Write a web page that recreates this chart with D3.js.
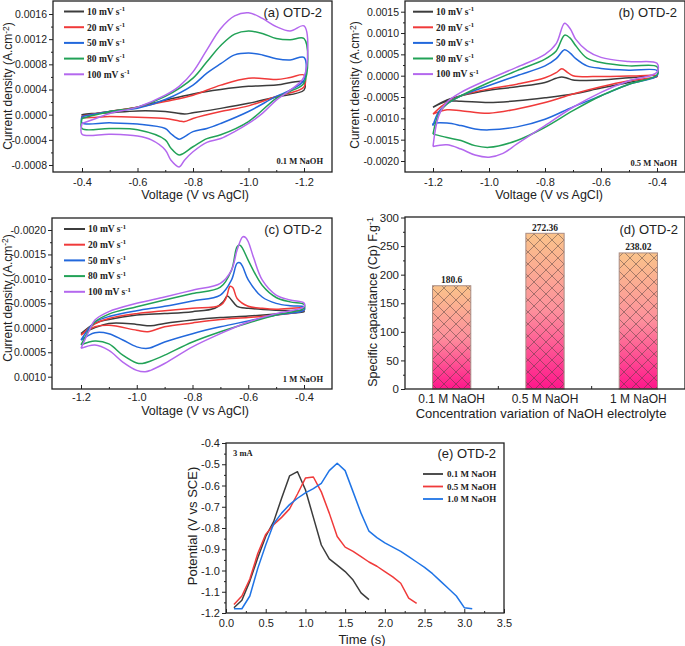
<!DOCTYPE html>
<html><head><meta charset="utf-8">
<script src="https://cdn.jsdelivr.net/npm/d3@7"></script>
<style>
body{margin:0;background:#fff}
svg{display:block}
text{font-family:"Liberation Sans",Arial,sans-serif;fill:#222}
.ser{font-family:"Liberation Serif","Times New Roman",serif;font-weight:bold}
</style>
</head><body>
<svg id="c" width="685" height="646"></svg>
<script>
// ---------- DATA (current values in units of 1e-4 A.cm^-2) ----------
const U = 1e-4;
const scanLabels = ["10","20","50","80","100"];
// Panel (a) 0.1 M NaOH  [V, I] loops
const cvA10  = [[-0.4,-0.1],[-0.5,0.5],[-0.6,1.2],[-0.7,2.3],[-0.8,3.3],[-0.9,4.0],[-1.0,4.5],[-1.1,4.7],[-1.2,5.2],
                [-1.2,3.9],[-1.1,2.8],[-1.0,1.8],[-0.9,1.0],[-0.8,0.3],[-0.77,0.1],[-0.7,0.5],[-0.6,0.6],[-0.5,0.3],[-0.4,0.0]];
const cvA20  = [[-0.4,-0.2],[-0.5,0.5],[-0.6,1.2],[-0.7,2.1],[-0.8,3.1],[-0.9,4.7],[-1.0,5.8],[-1.1,5.6],[-1.15,5.9],[-1.2,6.3],
                [-1.2,4.4],[-1.1,2.9],[-1.0,1.4],[-0.9,0.5],[-0.8,-0.6],[-0.77,-1.1],[-0.75,-1.0],[-0.7,-0.6],[-0.6,-0.4],[-0.5,-0.3],[-0.4,-0.4]];
const cvA50  = [[-0.4,-0.3],[-0.5,0.5],[-0.6,1.0],[-0.7,2.4],[-0.8,4.7],[-0.85,6.6],[-0.9,8.1],[-0.95,9.5],[-1.0,9.8],[-1.05,9.5],[-1.1,8.9],[-1.15,8.7],[-1.2,9.1],
                [-1.2,5.5],[-1.15,3.9],[-1.1,2.9],[-1.0,0.5],[-0.9,-1.4],[-0.85,-2.2],[-0.8,-2.7],[-0.77,-3.5],[-0.75,-3.9],[-0.72,-3.0],[-0.7,-2.2],[-0.6,-1.5],[-0.5,-1.3],[-0.4,-1.3]];
const cvA80  = [[-0.4,-0.6],[-0.5,0.5],[-0.6,1.2],[-0.7,2.9],[-0.8,5.8],[-0.85,8.4],[-0.9,11.0],[-0.95,12.8],[-1.0,13.3],[-1.05,12.9],[-1.1,12.1],[-1.15,11.9],[-1.2,12.1],
                [-1.2,5.0],[-1.15,3.7],[-1.1,2.6],[-1.0,-1.1],[-0.9,-3.2],[-0.85,-3.8],[-0.8,-5.1],[-0.75,-6.4],[-0.72,-5.3],[-0.7,-4.0],[-0.6,-2.4],[-0.5,-2.2],[-0.4,-2.2]];
const cvA100 = [[-0.4,-1.4],[-0.45,-0.6],[-0.5,0.2],[-0.6,1.2],[-0.7,3.1],[-0.75,4.5],[-0.8,6.8],[-0.85,10.3],[-0.9,13.7],[-0.95,15.7],[-1.0,16.2],[-1.05,15.3],[-1.1,14.0],[-1.15,13.3],[-1.2,14.1],
                [-1.2,6.0],[-1.15,3.9],[-1.1,2.3],[-1.05,0.2],[-1.0,-1.4],[-0.95,-2.7],[-0.9,-3.8],[-0.85,-4.4],[-0.8,-5.9],[-0.77,-7.2],[-0.75,-8.3],[-0.72,-7.2],[-0.7,-5.6],[-0.65,-4.0],[-0.6,-3.4],[-0.5,-3.1],[-0.4,-3.1]];
// Panel (b) 0.5 M NaOH
const cvB10  = [[-1.2,-7.4],[-1.15,-5.7],[-1.1,-4.7],[-1.0,-3.4],[-0.9,-2.6],[-0.8,-1.6],[-0.76,-0.6],[-0.74,-0.3],[-0.72,-0.6],[-0.7,-1.0],[-0.6,-1.0],[-0.5,-0.5],[-0.4,0],
                [-0.4,-0.2],[-0.5,-1.6],[-0.6,-2.9],[-0.7,-4.3],[-0.8,-5.2],[-0.9,-5.9],[-1.0,-6.3],[-1.1,-6.0],[-1.15,-6.0],[-1.2,-7.4]];
const cvB20  = [[-1.2,-9.0],[-1.17,-7.2],[-1.15,-6.3],[-1.1,-4.7],[-1.0,-3.1],[-0.9,-2.0],[-0.8,-0.5],[-0.76,0.7],[-0.74,1.6],[-0.72,0.8],[-0.7,0],[-0.6,-0.2],[-0.5,-0.1],[-0.4,0],
                [-0.4,-0.2],[-0.5,-1.2],[-0.6,-2.6],[-0.7,-4.3],[-0.8,-6.3],[-0.9,-7.8],[-1.0,-8.8],[-1.1,-8.2],[-1.15,-8.0],[-1.2,-9.0]];
const cvB50  = [[-1.2,-11.7],[-1.18,-8.5],[-1.15,-6.6],[-1.1,-4.7],[-1.0,-2.3],[-0.9,0],[-0.8,2.3],[-0.76,4.0],[-0.73,6.1],[-0.71,5.3],[-0.69,4.0],[-0.65,2.3],[-0.6,1.7],[-0.5,1.3],[-0.4,1.2],
                [-0.4,0],[-0.5,-2.0],[-0.6,-4.7],[-0.7,-7.3],[-0.8,-10.2],[-0.9,-12.0],[-1.0,-12.7],[-1.05,-12.5],[-1.1,-11.7],[-1.15,-11.1],[-1.2,-11.3]];
const cvB80  = [[-1.2,-13.7],[-1.18,-9.0],[-1.15,-6.6],[-1.1,-4.7],[-1.0,-1.6],[-0.9,1.2],[-0.8,3.9],[-0.76,5.8],[-0.73,9.5],[-0.71,8.8],[-0.69,7.0],[-0.65,4.1],[-0.6,3.1],[-0.5,2.3],[-0.4,2.1],
                [-0.4,0.2],[-0.5,-2.0],[-0.6,-4.7],[-0.7,-8.2],[-0.8,-12.1],[-0.9,-15.2],[-1.0,-16.8],[-1.05,-16.4],[-1.1,-15.2],[-1.15,-14.5],[-1.2,-13.7]];
const cvB100 = [[-1.2,-16.6],[-1.18,-9.5],[-1.15,-6.2],[-1.1,-3.9],[-1.0,-0.8],[-0.9,2.0],[-0.8,5.0],[-0.76,7.5],[-0.73,12.3],[-0.71,11.0],[-0.69,8.5],[-0.65,5.9],[-0.6,4.3],[-0.5,3.3],[-0.4,2.9],
                [-0.4,0.8],[-0.5,-1.2],[-0.6,-3.9],[-0.7,-7.4],[-0.8,-11.7],[-0.9,-16.0],[-0.95,-18.2],[-1.0,-19.1],[-1.05,-18.6],[-1.1,-17.2],[-1.15,-16.2],[-1.2,-16.6]];
// Panel (c) 1 M NaOH (axis drawn reversed, as in the original)
const cvC10  = [[-1.2,1.2],[-1.15,-0.9],[-1.1,-1.7],[-1.0,-2.6],[-0.9,-2.9],[-0.8,-3.3],[-0.72,-4.0],[-0.69,-5.3],[-0.675,-6.5],[-0.66,-5.7],[-0.64,-4.4],[-0.6,-4.0],[-0.5,-3.6],[-0.4,-3.4],
                [-0.4,-3.3],[-0.5,-2.8],[-0.6,-2.4],[-0.7,-2.1],[-0.8,-1.6],[-0.9,-0.9],[-0.95,-0.4],[-1.0,-0.7],[-1.1,-0.9],[-1.2,1.2]];
const cvC20  = [[-1.2,1.5],[-1.15,-0.8],[-1.1,-1.9],[-1.0,-2.9],[-0.9,-3.5],[-0.8,-4.0],[-0.7,-4.6],[-0.68,-6.0],[-0.665,-8.5],[-0.655,-8.2],[-0.64,-6.0],[-0.6,-4.4],[-0.55,-4.0],[-0.5,-3.8],[-0.4,-4.0],
                [-0.4,-3.6],[-0.5,-2.6],[-0.6,-2.1],[-0.7,-1.7],[-0.8,-1.0],[-0.9,-0.2],[-0.96,0.8],[-1.0,0.5],[-1.1,-0.5],[-1.15,-0.2],[-1.2,1.5]];
const cvC50  = [[-1.2,2.5],[-1.17,0],[-1.15,-1.2],[-1.1,-2.3],[-1.0,-3.5],[-0.9,-4.4],[-0.8,-5.5],[-0.7,-6.7],[-0.66,-9.8],[-0.64,-13.2],[-0.63,-13.3],[-0.62,-12.5],[-0.6,-9.8],[-0.55,-6.3],[-0.5,-5.0],[-0.45,-4.5],[-0.4,-4.3],
                [-0.4,-3.6],[-0.5,-2.6],[-0.6,-1.4],[-0.7,-0.2],[-0.8,1.2],[-0.9,2.9],[-0.96,4.2],[-1.0,3.9],[-1.05,2.5],[-1.1,1.2],[-1.15,1.0],[-1.2,2.5]];
const cvC80  = [[-1.2,3.5],[-1.17,0.4],[-1.15,-1.2],[-1.1,-2.8],[-1.0,-4.3],[-0.9,-5.7],[-0.8,-7.0],[-0.7,-8.3],[-0.66,-11.8],[-0.64,-16.6],[-0.63,-16.9],[-0.62,-16.2],[-0.6,-13.8],[-0.55,-8.7],[-0.5,-6.2],[-0.45,-5.3],[-0.4,-4.8],
                [-0.4,-4.0],[-0.5,-2.6],[-0.6,-1.0],[-0.7,0.8],[-0.8,2.9],[-0.9,5.6],[-0.95,6.8],[-0.98,7.3],[-1.0,7.2],[-1.05,5.6],[-1.1,3.3],[-1.15,2.7],[-1.2,3.5]];
const cvC100 = [[-1.2,4.2],[-1.17,0.5],[-1.15,-1.6],[-1.1,-3.3],[-1.0,-5.0],[-0.9,-6.3],[-0.8,-7.7],[-0.7,-9.1],[-0.66,-11.8],[-0.64,-15.9],[-0.62,-18.6],[-0.61,-18.5],[-0.6,-17.6],[-0.58,-14.2],[-0.55,-9.8],[-0.5,-6.7],[-0.45,-5.7],[-0.4,-5.1],
                [-0.4,-4.3],[-0.5,-2.9],[-0.6,-1.2],[-0.7,1.2],[-0.8,3.9],[-0.9,7.3],[-0.95,8.7],[-0.97,9.0],[-1.0,8.7],[-1.05,7.0],[-1.1,4.6],[-1.15,3.5],[-1.2,4.2]];
// Panel (d)
const barCats = ["0.1 M NaOH","0.5 M NaOH","1 M NaOH"];
const barVals = [180.6, 272.36, 238.02];
// Panel (e) GCD [t(s), V]
const gcdLabels = ["0.1 M NaOH","0.5 M NaOH","1.0 M NaOH"];
const gcd01 = [[0.1,-1.175],[0.2,-1.14],[0.3,-1.05],[0.4,-0.94],[0.5,-0.84],[0.6,-0.77],[0.7,-0.66],[0.8,-0.555],[0.9,-0.535],[1.0,-0.62],[1.1,-0.75],[1.2,-0.88],[1.3,-0.945],[1.4,-0.975],[1.5,-1.005],[1.6,-1.045],[1.7,-1.105],[1.8,-1.137]];
const gcd05 = [[0.1,-1.16],[0.2,-1.12],[0.3,-1.04],[0.4,-0.92],[0.5,-0.83],[0.6,-0.785],[0.7,-0.75],[0.8,-0.71],[0.9,-0.64],[1.0,-0.565],[1.1,-0.56],[1.2,-0.63],[1.3,-0.73],[1.4,-0.84],[1.5,-0.89],[1.6,-0.91],[1.7,-0.935],[1.8,-0.96],[1.9,-0.98],[2.0,-1.005],[2.1,-1.03],[2.2,-1.06],[2.3,-1.13],[2.4,-1.155]];
const gcd10 = [[0.1,-1.18],[0.2,-1.18],[0.3,-1.12],[0.4,-0.99],[0.5,-0.88],[0.6,-0.78],[0.7,-0.73],[0.8,-0.69],[0.9,-0.66],[1.0,-0.635],[1.1,-0.615],[1.2,-0.59],[1.3,-0.53],[1.4,-0.495],[1.5,-0.53],[1.6,-0.63],[1.7,-0.73],[1.8,-0.815],[1.9,-0.845],[2.0,-0.87],[2.1,-0.89],[2.2,-0.91],[2.3,-0.935],[2.4,-0.96],[2.5,-0.985],[2.6,-1.015],[2.7,-1.05],[2.8,-1.085],[2.9,-1.12],[3.0,-1.175],[3.1,-1.18]];

// ---------- STYLE ----------
const cvColors = ["#3c3c3c","#f03a3a","#2268dc","#22a257","#b468ee"];
const gcdColors = ["#3c3c3c","#f03a3a","#1f74e6"];
const loc = d3.formatLocale({decimal:".",thousands:",",grouping:[3],currency:["",""],minus:"-"});
const f4 = loc.format(".4f"), f1 = loc.format(".1f"), f0 = loc.format("d");
const YT = 10.5, XT = 11, AT = 12.5;

const svg = d3.select("#c");

function supText(g, x, y, base, sup, cls, size, anchor, extra, raise){
  const r = raise || 0.38;
  const t = g.append("text").attr("x",x).attr("y",y).attr("dy","0.35em")
    .attr("font-size",size).attr("text-anchor",anchor||"start");
  if(cls) t.attr("class",cls);
  t.append("tspan").text(base);
  if(sup){ t.append("tspan").attr("dy",-size*r).attr("font-size",size*0.7).text(sup);
    if(extra){ t.append("tspan").attr("dy",size*r).attr("font-size",size).text(extra);} }
  return t;
}

function axes(g, x, y, box, o){
  const ya = g.append("g").attr("transform",`translate(${box.l},0)`)
    .call(d3.axisLeft(y).tickValues(o.yt).tickSize(4).tickPadding(2).tickFormat(o.yf));
  ya.select(".domain").remove();
  ya.selectAll("text").attr("font-size",o.ys||YT).attr("font-family","Liberation Sans, Arial, sans-serif").attr("fill","#222");
  ya.selectAll("line").attr("stroke","#222");
  if(o.ym){ const ym = g.append("g").attr("transform",`translate(${box.l},0)`)
    .call(d3.axisLeft(y).tickValues(o.ym).tickSize(2).tickFormat(""));
    ym.select(".domain").remove(); ym.selectAll("line").attr("stroke","#222"); }
  if(o.xt){
    const xa = g.append("g").attr("transform",`translate(0,${box.b})`)
      .call(d3.axisBottom(x).tickValues(o.xt).tickSize(-4).tickPadding(o.xpad).tickFormat(o.xf));
    xa.select(".domain").remove();
    xa.selectAll("text").attr("font-size",XT).attr("font-family","Liberation Sans, Arial, sans-serif").attr("fill","#222");
    xa.selectAll("line").attr("stroke","#222");
  }
  if(o.xm){ const xm = g.append("g").attr("transform",`translate(0,${box.b})`)
    .call(d3.axisBottom(x).tickValues(o.xm).tickSize(-2).tickFormat(""));
    xm.select(".domain").remove(); xm.selectAll("line").attr("stroke","#222"); }
}
function frame(g, box){
  g.append("rect").attr("x",box.l).attr("y",box.t).attr("width",box.r-box.l).attr("height",box.b-box.t)
    .attr("fill","none").attr("stroke","#222").attr("stroke-width",1.3);
}

function cvPanel(c){
  const g = svg.append("g");
  const x = d3.scaleLinear().domain(c.xDom).range(c.xRng);
  const y = d3.scaleLinear().domain(c.yDom).range(c.yRng);
  const line = d3.line().x(d=>x(d[0])).y(d=>y(d[1]*U)).curve(d3.curveCatmullRom.alpha(0.5));
  c.series.forEach((s,i)=>{
    g.append("path").attr("d",line(s.concat([s[0]]))).attr("fill","none")
      .attr("stroke",cvColors[i]).attr("stroke-width",1.5).attr("stroke-linejoin","round");
  });
  frame(g, c.box);
  axes(g, x, y, c.box, {yt:c.yt, ym:c.ym, yf:f4, xt:c.xt, xm:c.xm, xf:f1, xpad:c.xpad});
  scanLabels.forEach((lab,i)=>{
    const yy = c.leg.y0 + i*c.leg.dy;
    g.append("line").attr("x1",c.leg.x0).attr("x2",c.leg.x1).attr("y1",yy).attr("y2",yy)
      .attr("stroke",cvColors[i]).attr("stroke-width",2);
    supText(g, c.leg.tx, yy, lab+" mV s", "-1", "ser", 9.5);
  });
  g.append("text").attr("x",c.title[0]).attr("y",c.title[1]).attr("dy","0.35em").attr("text-anchor","end")
    .attr("font-size",13).text(c.title[2]);
  g.append("text").attr("class","ser").attr("x",c.note[0]).attr("y",c.note[1]).attr("dy","0.35em").attr("text-anchor","end")
    .attr("font-size",8.5).text(c.note[2]);
  g.append("text").attr("x",c.xlab[0]).attr("y",c.xlab[1]).attr("dy","0.35em").attr("text-anchor","middle")
    .attr("font-size",AT).text("Voltage (V vs AgCl)");
  const yl = g.append("g").attr("transform",`translate(${c.ylab[0]},${c.ylab[1]}) rotate(-90)`);
  supText(yl, 0, 0, "Current density (A.cm", "-2", null, 12, "middle", ")", 0.3);
}

cvPanel({
  box:{l:53,r:332,t:1,b:172}, xDom:[-0.4,-1.2], xRng:[82,304], yDom:[-0.0008,0.0016], yRng:[165,14],
  series:[cvA10,cvA20,cvA50,cvA80,cvA100],
  yt:[-0.0008,-0.0004,0,0.0004,0.0008,0.0012,0.0016], ym:[-0.0006,-0.0002,0.0002,0.0006,0.001,0.0014],
  xt:[-0.4,-0.6,-0.8,-1.0,-1.2], xm:[-0.5,-0.7,-0.9,-1.1], xpad:6,
  leg:{x0:64,x1:84,tx:87,y0:11.5,dy:15.7},
  title:[322,12,"(a) OTD-2"], note:[323,161,"0.1 M NaOH"], xlab:[195,194.5], ylab:[8,86]
});
cvPanel({
  box:{l:405,r:685,t:1,b:172}, xDom:[-1.2,-0.4], xRng:[433,657], yDom:[-0.002,0.0015], yRng:[161,11.7],
  series:[cvB10,cvB20,cvB50,cvB80,cvB100],
  yt:[-0.002,-0.0015,-0.001,-0.0005,0,0.0005,0.001,0.0015], ym:[-0.00175,-0.00125,-0.00075,-0.00025,0.00025,0.00075,0.00125],
  xt:[-1.2,-1.0,-0.8,-0.6,-0.4], xm:[-1.1,-0.9,-0.7,-0.5], xpad:6,
  leg:{x0:413,x1:433,tx:436,y0:11.7,dy:15.6},
  title:[677,12,"(b) OTD-2"], note:[677,163,"0.5 M NaOH"], xlab:[549,194.5], ylab:[355,85]
});
cvPanel({
  box:{l:52,r:332,t:218,b:389}, xDom:[-1.2,-0.4], xRng:[81,304], yDom:[0.001,-0.002], yRng:[376.7,230],
  series:[cvC10,cvC20,cvC50,cvC80,cvC100],
  yt:[-0.002,-0.0015,-0.001,-0.0005,0,0.0005,0.001], ym:[-0.00175,-0.00125,-0.00075,-0.00025,0.00025,0.00075],
  xt:[-1.2,-1.0,-0.8,-0.6,-0.4], xm:[-1.1,-0.9,-0.7,-0.5], xpad:4,
  leg:{x0:64,x1:85,tx:88,y0:229,dy:15.7},
  title:[322,229,"(c) OTD-2"], note:[323,379,"1 M NaOH"], xlab:[195,410.5], ylab:[7.5,298]
});

// ---------- Panel (d) bars ----------
(function(){
  const box = {l:405,r:685,t:217,b:389};
  const g = svg.append("g");
  const defs = svg.append("defs");
  const gr = defs.append("linearGradient").attr("id","barGrad").attr("x1",0).attr("y1",0).attr("x2",0).attr("y2",1);
  gr.append("stop").attr("offset","0%").attr("stop-color","#fac38a");
  gr.append("stop").attr("offset","50%").attr("stop-color","#fd8f9c");
  gr.append("stop").attr("offset","100%").attr("stop-color","#ff168b");
  const pat = defs.append("pattern").attr("id","hatch").attr("patternUnits","userSpaceOnUse")
    .attr("width",12).attr("height",12);
  pat.append("path").attr("d","M0,0L12,12M12,0L0,12M-3,9L3,15M9,-3L15,3M-3,3L3,-3M9,15L15,9")
    .attr("stroke","#4a3a3a").attr("stroke-width",0.6).attr("stroke-opacity",0.8);
  const x = d3.scaleBand().domain(barCats).range([box.l,box.r]).paddingInner(0.59).paddingOuter(0.295);
  const y = d3.scaleLinear().domain([0,300]).range([box.b,box.t+0.5]);
  g.selectAll("rect.bar").data(barVals).join("rect").attr("class","bar")
    .attr("x",(d,i)=>x(barCats[i])).attr("width",x.bandwidth())
    .attr("y",d=>y(d)).attr("height",d=>box.b-y(d)).attr("fill","url(#barGrad)");
  g.selectAll("rect.hatch").data(barVals).join("rect").attr("class","hatch")
    .attr("x",(d,i)=>x(barCats[i])).attr("width",x.bandwidth())
    .attr("y",d=>y(d)).attr("height",d=>box.b-y(d)).attr("fill","url(#hatch)")
    .attr("stroke","#a88c84").attr("stroke-width",1);
  g.selectAll("text.val").data(barVals).join("text").attr("class","ser")
    .attr("x",(d,i)=>x(barCats[i])+x.bandwidth()/2).attr("y",d=>y(d)-2.5)
    .attr("text-anchor","middle").attr("font-size",9.5).text(d=>String(d));
  frame(g, box);
  axes(g, null, y, box, {yt:[0,50,100,150,200,250,300], ym:[25,75,125,175,225,275], yf:f0, ys:11.5});
  const step = x.step();
  [1,2].forEach(k=>{ const xx = box.l + x.paddingOuter()*step - x.paddingInner()*step/2 + k*step;
    g.append("line").attr("x1",xx).attr("x2",xx).attr("y1",box.b).attr("y2",box.b-3).attr("stroke","#222"); });
  barCats.forEach(c=>{
    g.append("text").attr("x",x(c)+x.bandwidth()/2).attr("y",399).attr("dy","0.35em")
      .attr("text-anchor","middle").attr("font-size",12).text(c);
  });
  g.append("text").attr("x",541).attr("y",413).attr("dy","0.35em").attr("text-anchor","middle")
    .attr("font-size",AT+0.5).text("Concentration variation of NaOH electrolyte");
  g.append("text").attr("x",678).attr("y",229).attr("dy","0.35em").attr("text-anchor","end")
    .attr("font-size",13).text("(d) OTD-2");
  const yl = g.append("g").attr("transform","translate(373,302) rotate(-90)");
  supText(yl, 0, 0, "Specific capacitance (Cp) F.g", "-1", null, AT, "middle");
})();

// ---------- Panel (e) GCD ----------
(function(){
  const box = {l:226,r:504,t:443,b:613};
  const g = svg.append("g");
  const x = d3.scaleLinear().domain([0,3.5]).range([box.l,box.r]);
  const y = d3.scaleLinear().domain([-1.2,-0.4]).range([box.b,box.t]);
  const line = d3.line().x(d=>x(d[0])).y(d=>y(d[1]));
  [gcd01,gcd05,gcd10].forEach((s,i)=>{
    g.append("path").attr("d",line(s)).attr("fill","none").attr("stroke",gcdColors[i])
      .attr("stroke-width",1.5).attr("stroke-linejoin","round");
  });
  frame(g, box);
  axes(g, x, y, box, {yt:[-1.2,-1.1,-1.0,-0.9,-0.8,-0.7,-0.6,-0.5,-0.4], ym:[-1.15,-1.05,-0.95,-0.85,-0.75,-0.65,-0.55,-0.45], yf:f1,
    xt:[0,0.5,1,1.5,2,2.5,3,3.5], xm:[0.25,0.75,1.25,1.75,2.25,2.75,3.25], xf:f1, xpad:6, ys:11});
  gcdLabels.forEach((lab,i)=>{
    const yy = 474 + i*12.5;
    g.append("line").attr("x1",423).attr("x2",443).attr("y1",yy).attr("y2",yy).attr("stroke",gcdColors[i]).attr("stroke-width",1.8);
    g.append("text").attr("class","ser").attr("x",447).attr("y",yy).attr("dy","0.35em").attr("font-size",9).text(lab);
  });
  g.append("text").attr("class","ser").attr("x",233).attr("y",453).attr("dy","0.35em").attr("font-size",8.5).text("3 mA");
  g.append("text").attr("x",496).attr("y",453).attr("dy","0.35em").attr("text-anchor","end").attr("font-size",13).text("(e) OTD-2");
  g.append("text").attr("x",362).attr("y",639).attr("dy","0.35em").attr("text-anchor","middle").attr("font-size",AT+0.5).text("Time (s)");
  g.append("text").attr("transform","translate(192,526) rotate(-90)").attr("dy","0.35em").attr("text-anchor","middle")
    .attr("font-size",AT+0.5).text("Potential (V vs SCE)");
})();
</script>
</body></html>
